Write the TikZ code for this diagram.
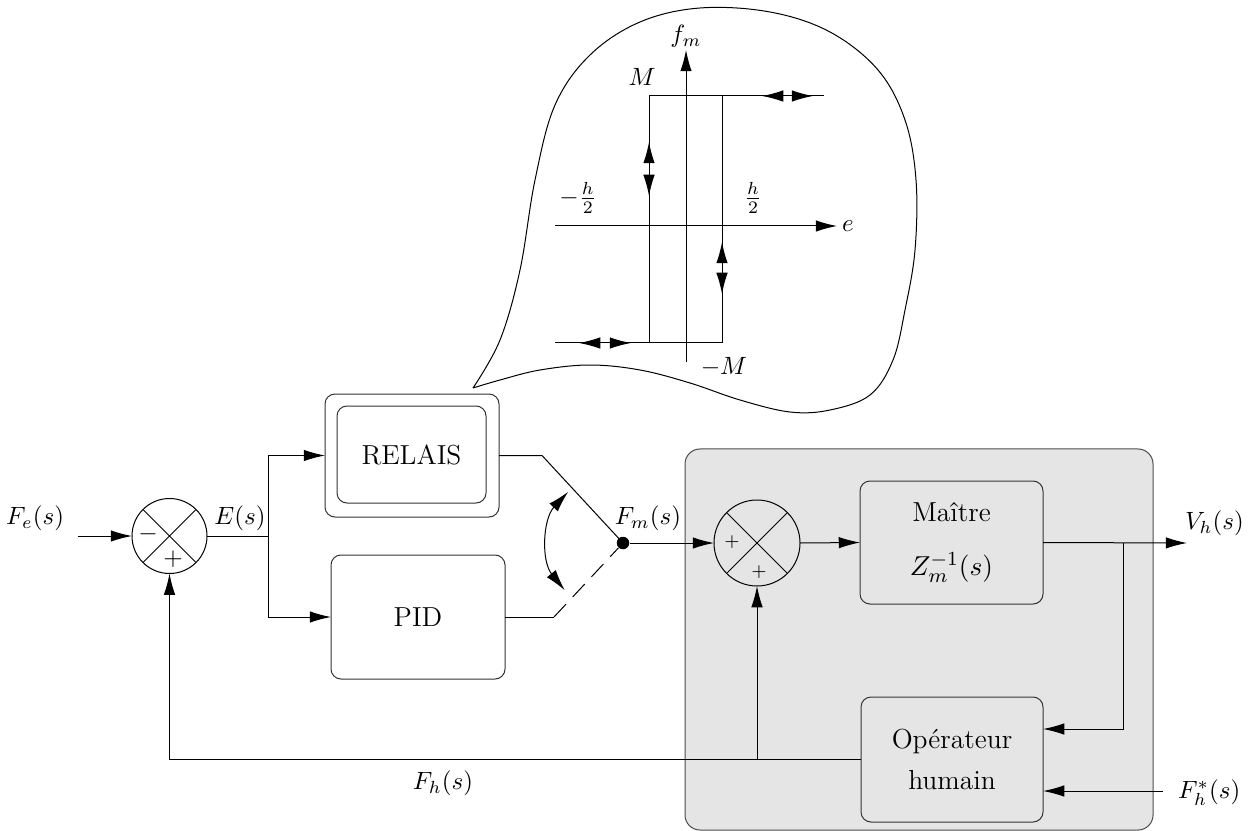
\documentclass[tikz,border=0pt]{standalone}
\usetikzlibrary{arrows.meta}
\begin{document}
\begin{tikzpicture}[x=0.4pt,y=-0.4pt,
  arr/.style={-{Latex[length=8.5pt,width=4.6pt]}},
  blk/.style={draw=black!80, rounded corners=4pt, inner sep=0pt, outer sep=0pt, align=center, font=\fontsize{11}{13.6}\selectfont},
  sumj/.style={draw, circle, inner sep=0pt, outer sep=0pt},
  lbl/.style={inner sep=0pt, outer sep=0pt}]
\useasboundingbox (0,0) rectangle (1250,831);

% grey group
\node[draw=black!70, fill=black!10, rounded corners=6pt, minimum width=187.2pt, minimum height=152.4pt, inner sep=0pt, outer sep=0pt] (grp) at (919,639.5) {};

% blocks
\node[blk, minimum width=69.6pt, minimum height=49.2pt] (relais) at (412,455.5) {};
\node[blk, minimum width=59.6pt, minimum height=38.8pt] (relaisin) at (411.5,454.5) {RELAIS};
\node[blk, minimum width=69.6pt, minimum height=49.6pt] (pid) at (418,617) {PID};
\node[blk, minimum width=73.2pt, minimum height=49.2pt] (ma) at (951.5,542.5) {Maître\\[8pt]$Z_m^{-1}(s)$};
\node[blk, minimum width=72.8pt, minimum height=50pt] (op) at (952,759.5) {Opérateur\\[3pt]humain};

% summing junctions
\node[sumj, minimum size=30pt] (s1) at (169.5,536) {};
\draw (s1.north west) -- (s1.south east) (s1.north east) -- (s1.south west);
\node[lbl] (s1m) at (148,534) {$-$};
\node[lbl] (s1p) at (173,559) {$+$};
\node[sumj, minimum size=34.4pt] (s2) at (757,543) {};
\draw (s2.north west) -- (s2.south east) (s2.north east) -- (s2.south west);
\node[lbl, font=\scriptsize] (s2a) at (732,542) {$+$};
\node[lbl, font=\scriptsize] (s2b) at (759,572) {$+$};

% switch point
\node[circle, fill, inner sep=0pt, minimum size=5pt] (dot) at (623,543) {};

% labels
\node[lbl] (fe) at (35,518) {$F_e(s)$};
\node[lbl] (es) at (240,518) {$E(s)$};
\node[lbl] (fm) at (648,518) {$F_m(s)$};
\node[lbl, anchor=west] (vh) at (1185,523) {$V_h(s)$};
\node[lbl, anchor=west] (fhs) at (1178,793) {$F_h^*(s)$};
\node[lbl] (fh) at (443,783) {$F_h(s)$};

% coordinates
\coordinate (fein) at (78,536);
\coordinate (br) at (268,536);
\coordinate (rk) at (542,455.5);
\coordinate (pk) at (554,617);
\coordinate (vhend) at (1187,543);
\coordinate (vbr) at (1123,543);
\coordinate (vdn) at (1123,729);
\coordinate (fsin) at (1163,791);

% connectors
\draw[arr] (fein) -- (s1.west);
\draw (s1.east) -- (br);
\draw[arr] (br) |- (relais.west);
\draw[arr] (br) |- (pid.west);
\draw (relais.east) -- (rk) -- (dot.center);
\draw (pid.east) -- (pk);
\draw[dash pattern=on 7pt off 4pt] (pk) -- (dot);
\draw[{Latex[length=8.5pt,width=4.6pt]}-{Latex[length=8.5pt,width=4.6pt]}] (dot.center) ++(223:75) arc[start angle=223, end angle=141, radius=75];
\draw[arr] (dot) -- (s2.west);
\draw[arr] (s2.east) -- (ma.west);
\draw[arr] (ma.east) -- (vhend);
\draw[arr] (vbr) -- (vdn) -- (vdn -| op.east);
\draw[arr] (fsin) -- (fsin -| op.east);
\draw[arr] (op.west) -| (s1.south);
\draw[arr] (op.west -| s2.south) -- (s2.south);

% speech bubble
\draw plot[smooth, tension=0.6] coordinates {(473,388) (500,340) (520,270) (535,180) (555,105) (590,55) (640,22) (700,8) (770,12) (830,32) (878,70) (905,120) (916,180) (915,250) (905,310) (893,360) (870,395) (830,410) (790,412) (740,400) (690,383) (640,370) (590,365) (540,370) (500,380) (473,388)};

% hysteresis characteristic
\draw[arr] (686,362) -- (686,50) node[lbl, anchor=south, yshift=1pt] (fmax) {$f_m$};
\draw[arr] (555,226) -- (837,226) node[lbl, anchor=west, xshift=2pt] (eax) {$e$};
\draw (649,96) -- (824,96);
\draw (555,343) -- (722,343);
\draw (649,96) -- (649,343);
\draw (722,96) -- (722,343);
\draw[arr] (788,96) -- (762,96);
\draw[arr] (788,96) -- (813,96);
\draw[arr] (605,343) -- (579,343);
\draw[arr] (605,343) -- (631,343);
\draw[arr] (649,168) -- (649,142);
\draw[arr] (649,168) -- (649,196);
\draw[arr] (722,268) -- (722,242);
\draw[arr] (722,268) -- (722,294);
\node[lbl] (mlab) at (642,77) {$M$};
\node[lbl] (mmlab) at (724,367) {$-M$};
\node[lbl] (hl) at (578,198) {$-\frac{h}{2}$};
\node[lbl] (hr) at (753,198) {$\frac{h}{2}$};
\end{tikzpicture}
\end{document}
